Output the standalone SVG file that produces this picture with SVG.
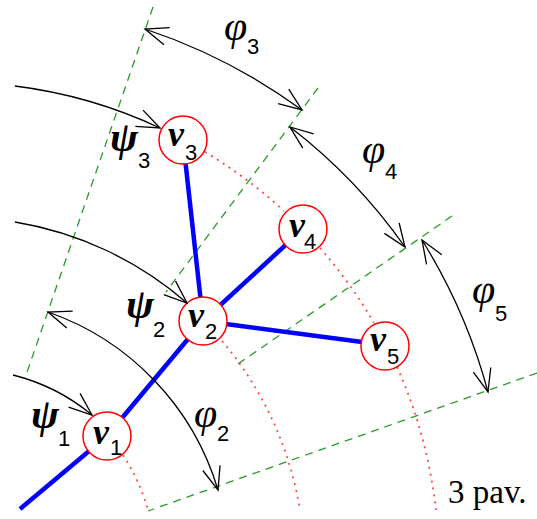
<svg xmlns="http://www.w3.org/2000/svg" width="537" height="519" viewBox="0 0 537 519">
<style>
.grid{fill:none;stroke:#2a9a2a;stroke-width:1.3;stroke-dasharray:8,6}
.orb{fill:none;stroke:#ff4a4a;stroke-width:1.8;stroke-dasharray:2,5}
.edge{fill:none;stroke:#0000ff;stroke-width:4.5;stroke-linecap:butt}
.arc{fill:none;stroke:#000;stroke-width:1.3}
.node circle{fill:#fff;stroke:#ff0000;stroke-width:1.5}
.v{font-family:"Liberation Serif",serif;font-style:italic;font-weight:bold;font-size:36px;fill:#000}
.phi{font-family:"Liberation Serif",serif;font-style:italic;font-size:42px;fill:#000}
.psi{font-family:"Liberation Serif",serif;font-style:italic;font-weight:bold;font-size:42px;fill:#000}
.d{font-family:"Liberation Sans",sans-serif;font-size:22px;fill:#000}
.t{font-family:"Liberation Serif",serif;font-size:33px;fill:#000}
</style>
<defs>
<marker id="ah" viewBox="-28 -14 32 28" markerWidth="32" markerHeight="28" refX="0" refY="0" orient="auto-start-reverse" markerUnits="userSpaceOnUse">
<path d="M-23,-9 L0,0 L-23,9" fill="none" stroke="#000" stroke-width="1.3"/>
</marker>
</defs>
<g id="sector-lines">
<line class="grid" x1="153" y1="7" x2="25" y2="378"/>
<line class="grid" x1="318" y1="88" x2="166" y2="292"/>
<line class="grid" x1="452" y1="216" x2="238" y2="364"/>
<line class="grid" x1="537" y1="373" x2="148" y2="511"/>
</g>
<g id="orbits">
<path class="orb" d="M123,455 A199,199 0 0,1 148,510"/>
<path class="orb" d="M222,341 A347,347 0 0,1 300,510"/>
<path class="orb" d="M205,152 A482,482 0 0,1 284,211"/>
<path class="orb" d="M320,248 A482,482 0 0,1 374,323"/>
<path class="orb" d="M397,367 A482,482 0 0,1 436,510"/>
</g>
<g id="edges">
<line class="edge" x1="20" y1="509" x2="107" y2="436"/>
<line class="edge" x1="107" y1="436" x2="203" y2="321"/>
<line class="edge" x1="203" y1="321" x2="183" y2="140"/>
<line class="edge" x1="203" y1="321" x2="303" y2="229"/>
<line class="edge" x1="203" y1="321" x2="385" y2="345"/>
</g>
<g id="v1" class="node"><circle cx="107" cy="436" r="24"/><text class="v" x="93" y="444">v</text><text class="d" x="110" y="455">1</text></g>
<g id="v2" class="node"><circle cx="203" cy="321" r="24"/><text class="v" x="188" y="327">v</text><text class="d" x="205" y="339">2</text></g>
<g id="v3" class="node"><circle cx="183" cy="140" r="24"/><text class="v" x="168" y="146">v</text><text class="d" x="185" y="160">3</text></g>
<g id="v4" class="node"><circle cx="303" cy="229" r="24"/><text class="v" x="289" y="237">v</text><text class="d" x="304" y="249">4</text></g>
<g id="v5" class="node"><circle cx="385" cy="346" r="24"/><text class="v" x="370" y="351">v</text><text class="d" x="387" y="364">5</text></g>
<g id="connectors">
<path class="arc" d="M145,29 A570,570 0 0,1 302,110" marker-start="url(#ah)" marker-end="url(#ah)"/>
<path class="arc" d="M290,127 A550,550 0 0,1 405,247" marker-start="url(#ah)" marker-end="url(#ah)"/>
<path class="arc" d="M422,240 A563,563 0 0,1 488,392" marker-start="url(#ah)" marker-end="url(#ah)"/>
<path class="arc" d="M48,312 A270,270 0 0,1 218,490" marker-start="url(#ah)" marker-end="url(#ah)"/>
<path class="arc" d="M13,375 A199,199 0 0,1 92,415" marker-end="url(#ah)"/>
<path class="arc" d="M15,222 A348,348 0 0,1 187,303" marker-end="url(#ah)"/>
<path class="arc" d="M15,86 A482,482 0 0,1 160,128" marker-end="url(#ah)"/>
</g>
<g id="labels">
<text class="phi" x="224" y="40">φ</text><text class="d" x="247" y="54">3</text>
<text class="phi" x="362" y="163">φ</text><text class="d" x="385" y="179">4</text>
<text class="phi" x="472" y="303">φ</text><text class="d" x="495" y="321">5</text>
<text class="phi" x="194" y="427">φ</text><text class="d" x="217" y="441">2</text>
<text class="psi" x="31" y="428">ψ</text><text class="d" x="58" y="446">1</text>
<text class="psi" x="126" y="318">ψ</text><text class="d" x="153" y="337">2</text>
<text class="psi" x="110" y="151">ψ</text><text class="d" x="138" y="168">3</text>
<text class="t" x="448" y="503">3 pav.</text>
</g>
</svg>
